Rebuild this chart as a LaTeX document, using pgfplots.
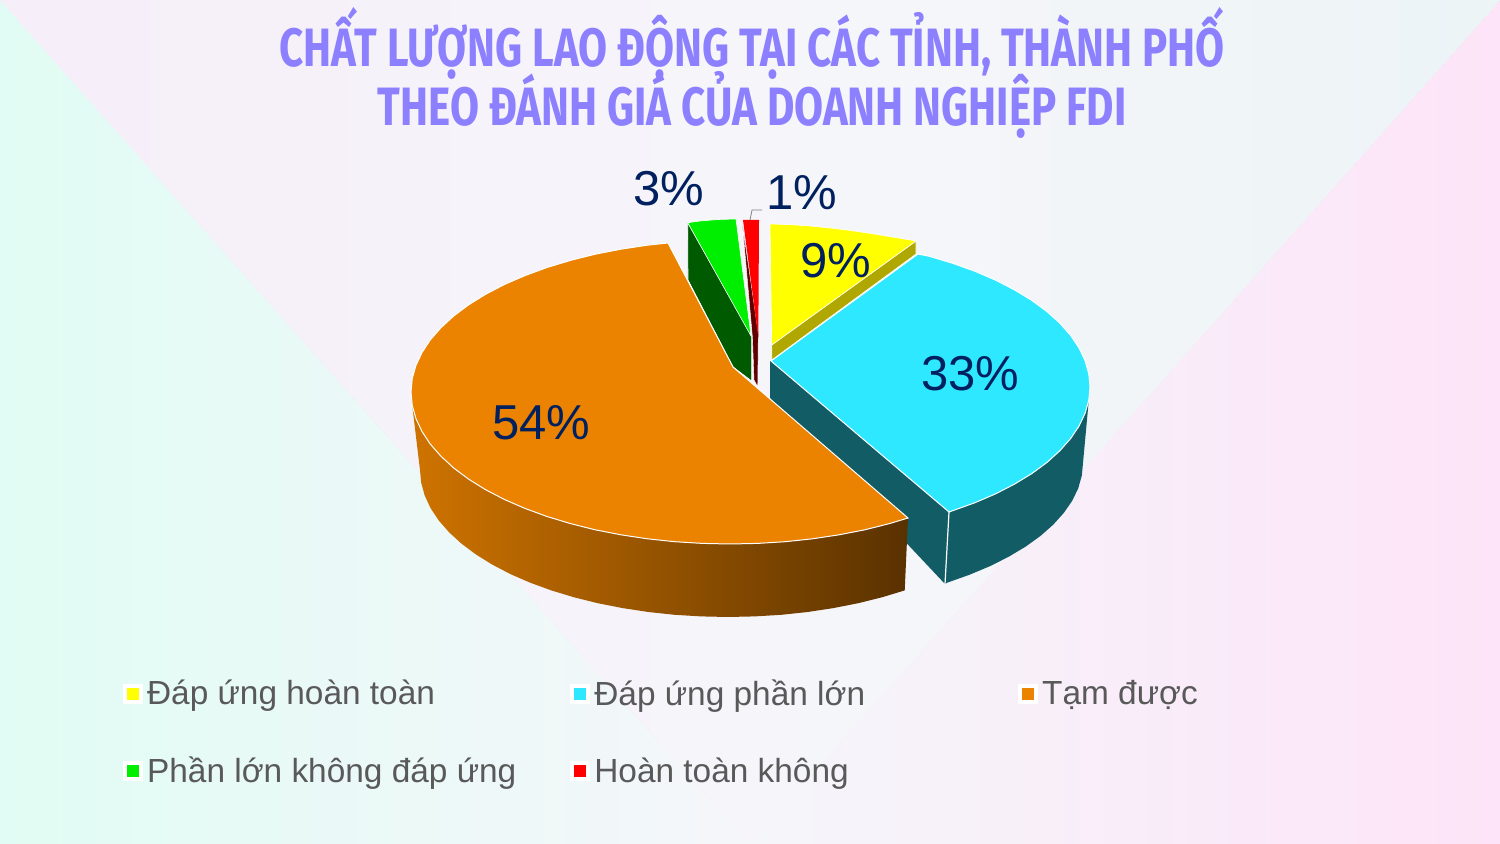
\documentclass[border=0pt]{standalone}
\usepackage{pgfplots}
\pgfplotsset{compat=1.18}
\usepackage{fontspec}
\setmainfont{Liberation Sans}
\newfontfamily\titlefont[FakeStretch=0.779]{Fira Sans}
\definecolor{bgmint}{HTML}{E1FCF4}
\definecolor{bgmid}{HTML}{F5F6FA}
\definecolor{bgpink}{HTML}{FDE4F8}
\definecolor{toplav}{HTML}{F6EEF9}
\definecolor{topmid}{HTML}{F6F6FA}
\definecolor{topblue}{HTML}{ECF4F6}
\definecolor{titlecol}{HTML}{8C80FF}
\definecolor{labelcol}{HTML}{002060}
\definecolor{legtext}{HTML}{595959}
\definecolor{pieyellow}{RGB}{255,255,0}
\definecolor{piered}{RGB}{255,0,0}
\definecolor{cyantop}{HTML}{2EE8FF}
\definecolor{cyanside}{HTML}{125C66}
\definecolor{orangetop}{HTML}{EB8300}
\definecolor{yellowside}{HTML}{B0A800}
\definecolor{greentop}{HTML}{00EE00}
\definecolor{greenside}{HTML}{005A00}
\definecolor{redside}{HTML}{600000}
\begin{document}
\begin{tikzpicture}
% background, 1 px = 0.5 pt
\fill[left color=bgmint,right color=bgpink,middle color=bgmid] (0,0) rectangle (750pt,422pt);
\foreach \x in {0,25,...,350}{
  \pgfmathtruncatemacro\p{100-\x/3.75}
  \fill[toplav!\p!topmid] (\x pt,422pt) -- (750pt,422pt) -- (375pt,0pt) -- (\x pt,422pt-1.125*\x pt) -- cycle;
}
\foreach \x in {375,400,...,725}{
  \pgfmathtruncatemacro\p{(\x-375)/3.75}
  \fill[topblue!\p!topmid] (\x pt,422pt) -- (750pt,422pt) -- (\x pt,422pt-1.125*750pt+1.125*\x pt) -- cycle;
}
\begin{axis}[
  at={(0,0)},anchor=south west,
  scale only axis,width=750pt,height=422pt,
  xmin=0,xmax=1500,ymin=0,ymax=844,y dir=reverse,
  hide axis,clip=false,
  title={\titlefont\bfseries CHẤT LƯỢNG LAO ĐỘNG TẠI CÁC TỈNH, THÀNH PHỐ\\[-5pt]\titlefont\bfseries THEO ĐÁNH GIÁ CỦA DOANH NGHIỆP FDI},
  title style={at={(rel axis cs:0.5015,1)},anchor=north,yshift=-6pt,align=center,text=titlecol,font=\fontsize{27pt}{30.5pt}\selectfont},
  legend columns=3,
  legend cell align=left,
  legend style={at={(axis cs:116.7,671)},anchor=north west,draw=none,fill=none,
    font=\fontsize{16.7pt}{19pt}\selectfont,text=legtext,
    /tikz/row sep=20.5pt,
    /tikz/column 2/.style={column sep=25pt},
    /tikz/column 4/.style={column sep=74.5pt}},
  legend image code/.code={\draw[#1,line width=2pt,draw=white] (canvas cs:x=0pt,y=-4pt) rectangle (canvas cs:x=8pt,y=4pt);},
]
% cyan slice: side then top
\addplot[forget plot,fill=cyanside,draw=none] coordinates {(1090,387)(1083,463)(1081.8,475.7)(1078.2,488.4)(1072.2,500.8)(1063.8,512.9)(1053.2,524.7)(1040.4,536)(1025.5,546.7)(1008.6,556.8)(989.9,566.2)(969.4,574.8)(947.4,582.6)(945,584)(770,398)(770,361)} -- cycle;
\addplot[forget plot,draw=white,line width=0.6pt] coordinates {(949,512)(945,584)};
\addplot[forget plot,fill=cyantop,draw=white,line width=0.5pt] coordinates {(771,361)(918,254)(929,256.2)(952.7,263.3)(975,271.3)(995.7,280.2)(1014.7,290)(1031.8,300.4)(1046.9,311.5)(1059.8,323.2)(1070.6,335.4)(1079,347.9)(1085.1,360.8)(1088.8,373.8)(1090,387)(1088.8,400.2)(1085.1,413.2)(1079,426.1)(1070.6,438.6)(1059.8,450.8)(1046.9,462.5)(1031.8,473.6)(1014.7,484)(995.7,493.8)(975,502.7)(952.7,510.7)(949,512)} -- cycle;
% yellow slice
\addplot[forget plot,fill=yellowside,draw=white,line width=0.3pt] coordinates {(916,241)(916,254)(771.7,360)(771.7,345)} -- cycle;
\addplot[forget plot,fill=pieyellow,draw=white,line width=0.3pt] coordinates {(771.7,345)(770,224)(790,224.6)(810,226)(830,228)(850,230.4)(870,233.4)(890,236.6)(916,241)} -- cycle;
% green slice
\addplot[forget plot,fill=greenside,draw=white,line width=0.3pt] coordinates {(687.7,222.7)(688,280)(733,367)(751.7,381)(751.7,336)} -- cycle;
\addplot[forget plot,fill=greentop,draw=white,line width=0.3pt] coordinates {(751,336)(687.7,222.7)(700,221)(718,219.5)(736,219)} -- cycle;
% red slice
\addplot[forget plot,fill=redside,draw=white,line width=0.2pt] coordinates {(742.5,225)(752.5,338)(754,380)(757.7,386.7)(758.3,333)} -- cycle;
\addplot[forget plot,fill=piered,draw=none] coordinates {(758.3,337)(743,220)(759,220)} -- cycle;
\addplot[forget plot,draw=gray,line width=0.4pt] coordinates {(750,220)(752,210)(762,210)};
% orange slice
\addplot[forget plot,left color=orangetop!88!black,middle color=orangetop!62!black,right color=orangetop!38!black,draw=none] coordinates {(908,518)(904.7,590.4)(882,597.3)(858.2,603.2)(833.3,608.1)(807.7,612)(781.5,614.8)(754.9,616.4)(728,617)(701.1,616.4)(674.5,614.8)(648.3,612)(622.7,608.1)(597.8,603.2)(574,597.3)(551.3,590.4)(530,582.6)(510.2,574)(492.1,564.5)(475.7,554.3)(461.3,543.5)(448.9,532.1)(438.6,520.3)(430.5,508)(424.7,495.5)(421.2,482.8)(420,470)(412.2,405.3)(411,392)} -- cycle;
\addplot[forget plot,fill=orangetop,draw=white,line width=0.5pt] coordinates {(733,367)(908,518)(889.5,523.6)(864.8,529.8)(839.1,534.8)(812.6,538.8)(785.4,541.7)(757.8,543.4)(730,544)(702.2,543.4)(674.6,541.7)(647.4,538.8)(620.9,534.8)(595.2,529.8)(570.5,523.6)(547,516.5)(525,508.4)(504.4,499.5)(485.6,489.7)(468.7,479.2)(453.7,468)(440.9,456.2)(430.2,444)(421.9,431.3)(415.9,418.4)(412.2,405.3)(411,392)(412.2,378.7)(415.9,365.6)(421.9,352.7)(430.2,340)(440.9,327.8)(453.7,316)(468.7,304.8)(485.6,294.3)(504.4,284.5)(525,275.6)(547,267.5)(570.5,260.4)(595.2,254.2)(620.9,249.2)(647.4,245.2)(668,243)} -- cycle;
% percentages
\node[text=labelcol,font=\fontsize{24.5pt}{26pt}\selectfont] at (axis cs:836,261) {9\%};
\node[text=labelcol,font=\fontsize{24.5pt}{26pt}\selectfont] at (axis cs:970.5,374) {33\%};
\node[text=labelcol,font=\fontsize{24.5pt}{26pt}\selectfont] at (axis cs:541.5,423) {54\%};
\node[text=labelcol,font=\fontsize{24.5pt}{26pt}\selectfont] at (axis cs:668.5,189) {3\%};
\node[text=labelcol,font=\fontsize{24.5pt}{26pt}\selectfont] at (axis cs:802,193) {1\%};
% legend
\addlegendimage{fill=pieyellow}
\addlegendentry{Đáp ứng hoàn toàn}
\addlegendimage{fill=cyantop}
\addlegendentry{Đáp ứng phần lớn}
\addlegendimage{fill=orangetop}
\addlegendentry{Tạm được}
\addlegendimage{fill=greentop}
\addlegendentry{Phần lớn không đáp ứng}
\addlegendimage{fill=piered}
\addlegendentry{Hoàn toàn không}
\end{axis}
% page is exactly the 1500x844 frame
\pgfresetboundingbox
\path[use as bounding box] (0,0) rectangle (750pt,422pt);
\end{tikzpicture}
\end{document}
